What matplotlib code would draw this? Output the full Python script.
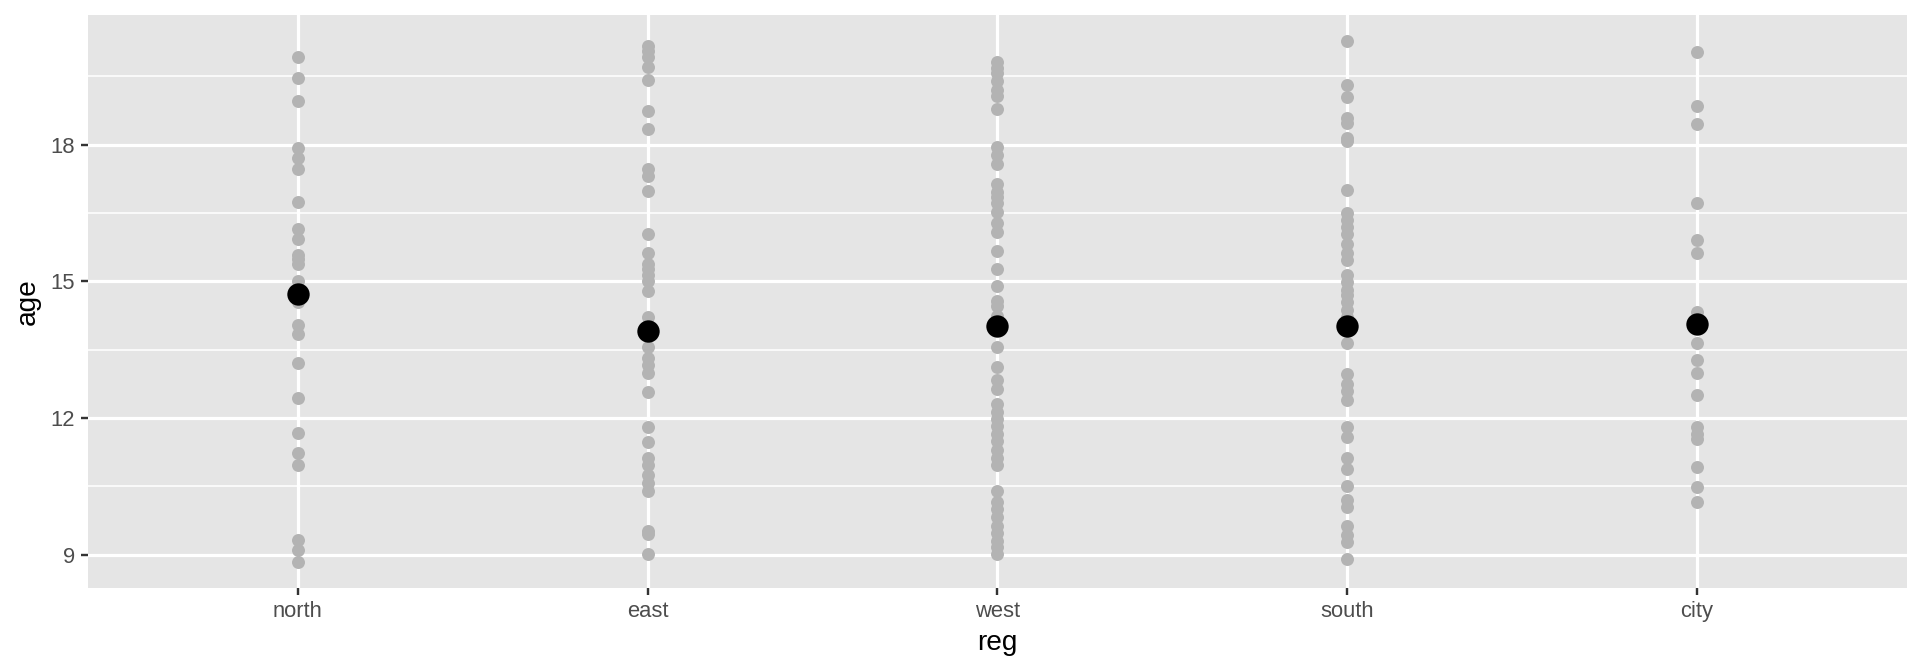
import numpy as np
import matplotlib.pyplot as plt

plt.rcParams['font.family'] = ['Liberation Sans', 'DejaVu Sans']

# regions and ages
regions = ['north', 'east', 'west', 'south', 'city']

north_age = [19.93, 19.46, 18.97, 17.92, 17.70, 17.47, 16.74, 16.16, 15.93, 15.59,
             15.50, 15.39, 15.02, 14.54, 14.05, 13.85, 13.20, 12.44, 11.67, 11.23,
             10.98, 9.32, 9.10, 8.84]
east_age = [20.17, 20.05, 19.93, 19.71, 19.42, 18.75, 18.35, 17.46, 17.31, 16.99,
            16.05, 15.63, 15.39, 15.27, 15.15, 15.02, 14.78, 14.23, 14.00, 13.56,
            13.32, 13.16, 13.00, 12.57, 11.80, 11.47, 11.13, 10.98, 10.74, 10.58,
            10.40, 9.52, 9.45, 9.02]
west_age = [19.81, 19.69, 19.57, 19.40, 19.20, 19.08, 18.79, 17.96, 17.78, 17.58,
            17.13, 16.97, 16.85, 16.73, 16.52, 16.28, 16.08, 15.67, 15.27, 14.90,
            14.58, 14.46, 14.25, 13.56, 13.12, 12.83, 12.63, 12.31, 12.14, 11.98,
            11.82, 11.66, 11.50, 11.29, 11.13, 10.97, 10.40, 10.16, 10.00, 9.83,
            9.63, 9.47, 9.31, 9.18, 9.02]
south_age = [20.28, 19.32, 19.06, 18.59, 18.48, 18.15, 18.08, 17.01, 16.50, 16.36,
             16.20, 16.04, 15.82, 15.63, 15.47, 15.15, 14.98, 14.82, 14.70, 14.54,
             14.37, 14.21, 13.64, 12.96, 12.75, 12.59, 12.39, 11.80, 11.58, 11.13,
             10.89, 10.52, 10.20, 10.04, 9.63, 9.43, 9.27, 8.90]
city_age = [20.04, 18.85, 18.45, 16.73, 15.90, 15.63, 14.33, 14.10, 13.64, 13.28,
            13.00, 12.51, 11.80, 11.66, 11.54, 10.93, 10.48, 10.16]

mean_age = [14.72, 13.92, 14.02, 14.03, 14.06]

all_ages = [north_age, east_age, west_age, south_age, city_age]

fig = plt.figure(figsize=(1920 / 144, 672 / 144), dpi=144)
ax = fig.add_axes([0.0458, 0.125, 0.9474, 0.8527])
ax.set_facecolor('#E5E5E5')

for i, ages in enumerate(all_ages):
    ax.scatter(np.full(len(ages), i + 1), ages, s=42, color='#B3B3B3',
               linewidths=0, zorder=3)
ax.scatter(np.arange(1, len(regions) + 1), mean_age, s=125, color='black',
           linewidths=0, zorder=4)

ax.set_xlim(0.4, 5.6)
ax.set_ylim(8.27, 20.85)
ax.set_xticks(np.arange(1, len(regions) + 1))
ax.set_xticklabels(regions)
ax.set_yticks([9, 12, 15, 18])
ax.set_yticks([10.5, 13.5, 16.5, 19.5], minor=True)

ax.grid(True, which='major', color='white', linewidth=1.6, zorder=1)
ax.grid(True, which='minor', axis='y', color='white', linewidth=0.8, zorder=1)
ax.set_axisbelow(True)
for sp in ax.spines.values():
    sp.set_visible(False)

ax.tick_params(axis='both', which='major', length=3.4, width=1.2, color='#333333',
               labelcolor='#4D4D4D', labelsize=11, pad=3)
ax.tick_params(axis='both', which='minor', length=0)

ax.set_xlabel('reg', fontsize=14, labelpad=4)
ax.set_ylabel('age', fontsize=14, labelpad=5)

plt.savefig('out.png', dpi=144)
